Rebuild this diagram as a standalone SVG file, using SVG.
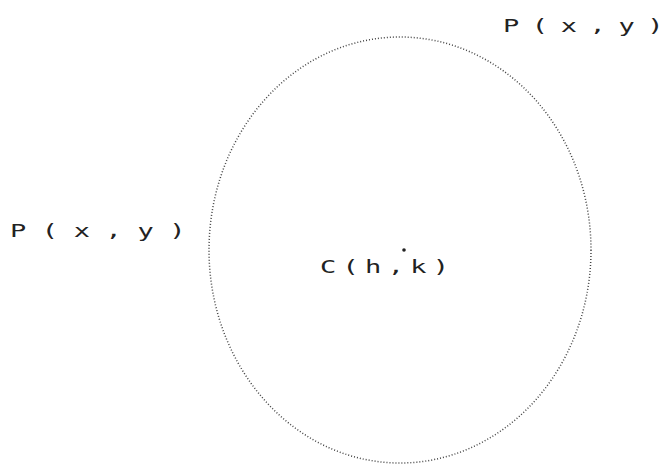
<svg xmlns="http://www.w3.org/2000/svg" width="672" height="465" viewBox="0 0 672 465">
<style>
.lbl{font-family:"DejaVu Sans Mono","Liberation Mono",monospace;font-size:18px;fill:#222;}
.curve{fill:none;stroke:#444;stroke-width:1.5;stroke-dasharray:1 2;}
</style>
<rect width="672" height="465" fill="#fff"/>
<g id="ellipse">
<ellipse class="curve" cx="400" cy="250" rx="191" ry="213"/>
</g>
<g id="center">
<text class="lbl" transform="translate(320,273) scale(1.5,1)" x="0" y="0" textLength="86" lengthAdjust="spacing">C(h,k)</text>
<circle cx="404" cy="250" r="1.8" fill="#222"/>
</g>
<g id="point-left">
<text class="lbl" transform="translate(10,237) scale(1.5,1)" x="0" y="0" textLength="117" lengthAdjust="spacing">P(x,y)</text>
</g>
<g id="point-top">
<text class="lbl" transform="translate(503,32) scale(1.5,1)" x="0" y="0" textLength="107" lengthAdjust="spacing">P(x,y)</text>
</g>
<g id="connectors"></g>
</svg>
